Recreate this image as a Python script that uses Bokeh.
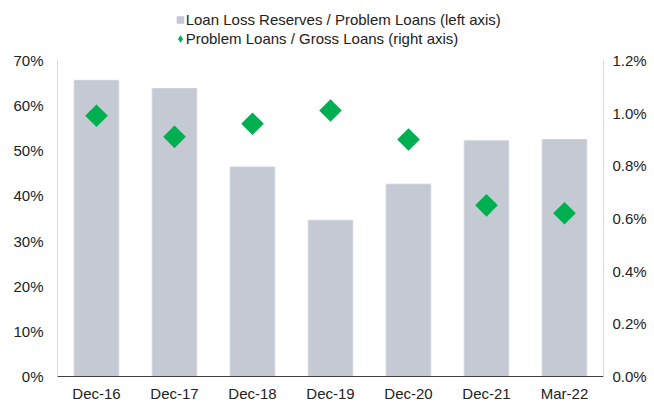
import math
from bokeh.plotting import figure
from bokeh.layouts import column
from bokeh.models import (Range1d, LinearAxis, FixedTicker, PrintfTickFormatter,
                          FactorRange, Legend, LegendItem, ColumnDataSource)
from bokeh.embed import file_html
from bokeh.resources import INLINE

# ---- data ----
categories = ["Dec-16", "Dec-17", "Dec-18", "Dec-19", "Dec-20", "Dec-21", "Mar-22"]
reserves_to_problem = [65.6, 63.8, 46.4, 34.6, 42.6, 52.2, 52.5]      # % (left axis)
problem_to_gross = [0.99, 0.91, 0.96, 1.01, 0.90, 0.65, 0.62]          # % (right axis)
left_ticks = [0, 10, 20, 30, 40, 50, 60, 70]
right_ticks = [0.0, 0.2, 0.4, 0.6, 0.8, 1.0, 1.2]
label_bars = "Loan Loss Reserves / Problem Loans (left axis)"
label_pts = "Problem Loans / Gross Loans (right axis)"

BAR = "#C4C9D4"
GREEN = "#00B050"
FONT = "Liberation Sans"
TXT = "#222222"

src = ColumnDataSource(dict(cat=categories, bars=reserves_to_problem, pts=problem_to_gross))

# ---------------- legend strip ----------------
lg = figure(x_range=FactorRange(*categories), y_range=Range1d(0, 70),
            width=654, height=50, output_backend="svg", toolbar_location=None,
            x_axis_location=None, y_axis_location=None,
            min_border_left=0, min_border_right=0, min_border_top=0, min_border_bottom=0)
lg.grid.visible = False
lg.outline_line_color = None
leg_sq = lg.scatter(x="cat", y="bars", source=src, marker="square", size=0,
                    fill_color=BAR, line_color=None)
leg_dm = lg.scatter(x="cat", y="bars", source=src, marker="diamond", size=0,
                    fill_color=GREEN, line_color=None)

common = dict(padding=0, margin=0, spacing=0, label_height=19, glyph_height=19,
              label_standoff=0, border_line_color=None, background_fill_alpha=0,
              label_text_font=FONT, label_text_font_size="15px", label_text_color=TXT)
# glyph swatches
legend_g = Legend(items=[LegendItem(label=" ", renderers=[leg_sq]),
                         LegendItem(label=" ", renderers=[leg_dm])],
                  location=(112.5, 2.5), glyph_width=20, **common)
# texts
legend_t = Legend(items=[LegendItem(label=label_bars, renderers=[leg_sq]),
                         LegendItem(label=label_pts, renderers=[leg_dm])],
                  location=(128.7, 2.5), glyph_width=0, **common)
lg.add_layout(legend_g)
lg.add_layout(legend_t)

# ---------------- main chart ----------------
p = figure(x_range=FactorRange(*categories), y_range=Range1d(0, 70),
           width=654, height=354, output_backend="svg", toolbar_location=None,
           min_border_left=57, min_border_right=51, min_border_top=10, min_border_bottom=25)
p.extra_y_ranges = {"right": Range1d(0, 1.2)}

p.vbar(x="cat", top="bars", width=0.57, source=src, fill_color=BAR, line_color="#CDD1DA", line_width=1)
p.scatter(x="cat", y="pts", source=src, y_range_name="right", marker="square",
          angle=math.pi / 4, size=16, fill_color=GREEN, line_color=None)

p.grid.visible = False
p.outline_line_color = None

ya = p.yaxis[0]
ya.ticker = FixedTicker(ticks=left_ticks)
ya.formatter = PrintfTickFormatter(format="%d%%")

ra = LinearAxis(y_range_name="right", ticker=FixedTicker(ticks=right_ticks),
                formatter=PrintfTickFormatter(format="%.1f%%"))
p.add_layout(ra, "right")

for ax in (ya, ra):
    ax.axis_line_color = "#D9D9D9"
    ax.axis_line_width = 1
ya.major_label_standoff = 14
ra.major_label_standoff = 9

xa = p.xaxis[0]
xa.axis_line_color = "#404040"
xa.major_label_standoff = 8

for ax in (ya, ra, xa):
    ax.major_tick_line_color = None
    ax.minor_tick_line_color = None
    ax.major_tick_out = 0
    ax.major_tick_in = 0
    ax.major_label_text_font = FONT
    ax.major_label_text_font_size = "15px"
    ax.major_label_text_color = TXT

layout = column(lg, p, spacing=0)
open("out.html", "w").write(file_html(layout, INLINE))
